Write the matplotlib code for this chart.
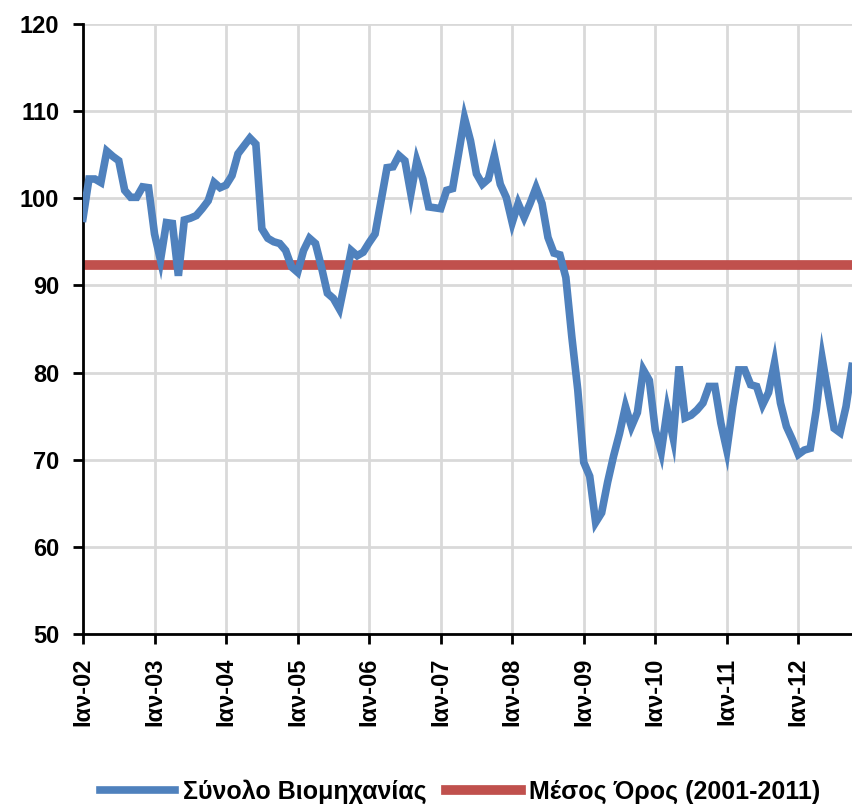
import numpy as np
import matplotlib
matplotlib.use('Agg')
import matplotlib.pyplot as plt

plt.rcParams['font.family'] = ['Liberation Sans', 'DejaVu Sans']

# monthly index, Jan 2002 - Oct 2012
industry = [97.7, 102.2, 102.2, 101.8, 105.4, 104.8, 104.3, 100.9, 100.1, 100.1, 101.3, 101.2,
            95.9, 92.9, 97.2, 97.1, 91.1, 97.5, 97.7, 98.0, 98.8, 99.7, 101.8, 101.2,
            101.5, 102.6, 105.1, 106.0, 106.9, 106.2, 96.5, 95.4, 95.0, 94.8, 94.0, 92.1,
            91.5, 94.0, 95.4, 94.8, 92.1, 89.1, 88.5, 87.3, 90.6, 94.0, 93.4, 93.8,
            94.9, 95.9, 99.7, 103.5, 103.6, 104.9, 104.3, 100.5, 104.3, 102.2, 99.0, 98.9,
            98.8, 100.9, 101.1, 105.1, 109.2, 106.6, 102.8, 101.6, 102.2, 104.9, 101.6, 100.1,
            97.2, 99.4, 97.8, 99.4, 101.2, 99.4, 95.5, 93.7, 93.5, 90.9, 84.1, 78.0,
            69.7, 68.1, 62.8, 63.9, 67.4, 70.4, 73.0, 76.1, 73.8, 75.4, 80.3, 79.1,
            73.4, 70.9, 75.7, 72.5, 80.7, 74.8, 75.1, 75.7, 76.5, 78.4, 78.4, 74.2,
            71.1, 76.1, 80.3, 80.3, 78.6, 78.4, 76.3, 77.7, 81.1, 76.5, 73.8, 72.3,
            70.6, 71.1, 71.3, 75.7, 81.6, 77.6, 73.6, 73.1, 76.1, 80.7]
mean_2001_2011 = 92.3
years = ['02', '03', '04', '05', '06', '07', '08', '09', '10', '11', '12']
tick_labels = ['Ιαν-' + y for y in years]

months = np.arange(len(industry))

fig = plt.figure(figsize=(8.52, 8.06), dpi=100)
ax = fig.add_axes([0.0974, 0.2134, 0.9026, 0.757])

ax.plot(months, industry, color='#4F81BD', lw=5.5, solid_joinstyle='miter',
        label='Σύνολο Βιομηχανίας', zorder=3)
ax.plot([0, months[-1]], [mean_2001_2011, mean_2001_2011], color='#C0504D', lw=7,
        label='Μέσος Όρος (2001-2011)', zorder=2)

ax.set_xlim(0, months[-1])
ax.set_ylim(50, 120)
ax.set_yticks(range(50, 121, 10))
ax.set_xticks(np.arange(len(years)) * 12)
ax.set_xticklabels(tick_labels, rotation=90)
for lab in ax.get_xticklabels() + ax.get_yticklabels():
    lab.set_fontweight('bold')
    lab.set_fontsize(17)

ax.grid(True, color='#d9d9d9', lw=2, zorder=0)
ax.set_axisbelow(True)
ax.spines['top'].set_visible(False)
ax.spines['right'].set_visible(False)
ax.spines['left'].set_linewidth(2)
ax.spines['bottom'].set_linewidth(2)
ax.tick_params(axis='y', direction='out', length=7, width=2, pad=10)
ax.tick_params(axis='x', direction='out', length=7, width=2, pad=10)

leg = fig.legend(loc='lower center', bbox_to_anchor=(0.54, -0.025), ncol=2, frameon=False,
                 prop={'weight': 'bold', 'size': 18}, handlelength=3, columnspacing=0.8,
                 handletextpad=0.3)

fig.savefig('out.png', dpi=100)
